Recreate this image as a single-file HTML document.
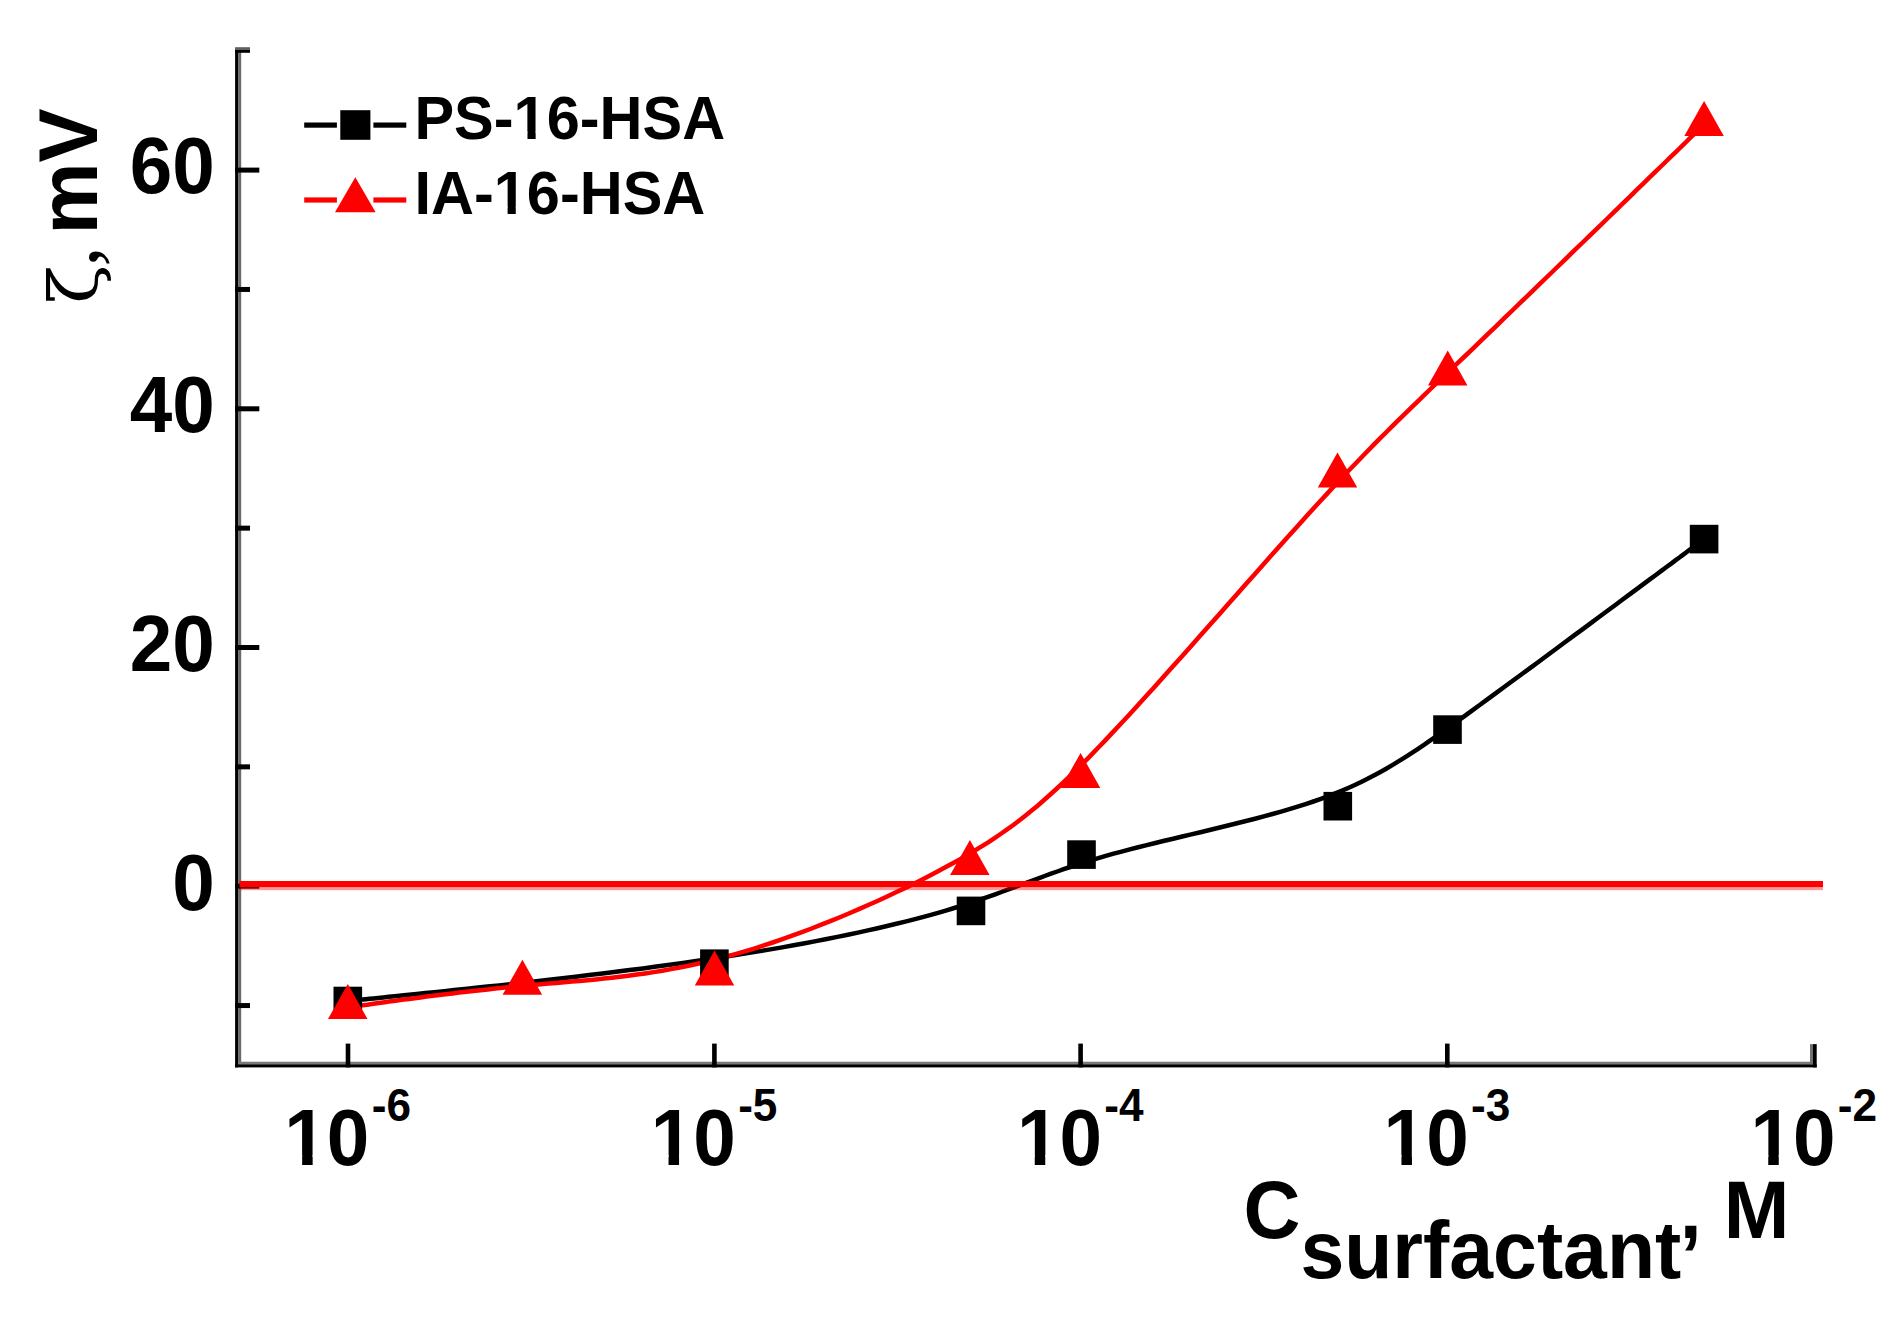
<!DOCTYPE html>
<html lang="en"><head><meta charset="utf-8"><title>Zeta potential vs surfactant concentration</title>
<style>
html,body{margin:0;padding:0;background:#fff;}
body{width:1899px;height:1326px;overflow:hidden;}
svg{display:block;}
.b{font-family:"Liberation Sans",Arial,Helvetica,sans-serif;font-weight:700;fill:#000;}
.s{font-family:"Liberation Serif","DejaVu Serif",serif;font-weight:400;fill:#000;}
.z{font-family:"DejaVu Serif","Liberation Serif",serif;font-weight:400;fill:#000;}
</style></head><body>
<svg width="1899" height="1326" viewBox="0 0 1899 1326">
<rect width="1899" height="1326" fill="#fff"/>
<g>
<g fill="#000">
<rect x="235.1" y="48.50" width="3.0" height="1018.90"/>
<rect x="238.1" y="51.60" width="3.1" height="1012.70" fill="#6a6a6a"/>
<rect x="238.1" y="1061.7" width="1575.60" height="2.6" fill="#7a7a7a"/>
<rect x="235.1" y="1064.3" width="1581.60" height="3.1"/>
<rect x="235.1" y="47.2" width="14.90" height="2.8" fill="#606060"/>
<rect x="235.1" y="50.0" width="14.90" height="2.8"/>
<rect x="235.00" y="167.60" width="24.30" height="5.00"/>
<rect x="235.00" y="286.95" width="15.00" height="5.00"/>
<rect x="235.00" y="406.30" width="24.30" height="5.00"/>
<rect x="235.00" y="525.65" width="15.00" height="5.00"/>
<rect x="235.00" y="645.00" width="24.30" height="5.00"/>
<rect x="235.00" y="764.35" width="15.00" height="5.00"/>
<rect x="235.00" y="883.70" width="24.30" height="5.00"/>
<rect x="235.00" y="1003.05" width="15.00" height="5.00"/>
<rect x="345.70" y="1043.60" width="4.60" height="23.80"/>
<rect x="712.10" y="1043.60" width="4.60" height="23.80"/>
<rect x="1078.30" y="1043.60" width="4.60" height="23.80"/>
<rect x="1445.00" y="1043.60" width="4.60" height="23.80"/>
<rect x="1810.0" y="1044.10" width="3.0" height="20.20" fill="#707070"/>
<rect x="1813.0" y="1044.10" width="3.7" height="23.30"/>
</g>
<text class="b" transform="translate(214.80 193.40) scale(0.9609 1)" font-size="79.61" text-anchor="end">60</text>
<text class="b" transform="translate(214.80 432.10) scale(0.9609 1)" font-size="79.61" text-anchor="end">40</text>
<text class="b" transform="translate(214.80 670.80) scale(0.9609 1)" font-size="79.61" text-anchor="end">20</text>
<text class="b" transform="translate(214.80 909.50) scale(0.9609 1)" font-size="79.61" text-anchor="end">0</text>
<clipPath id="c1"><path clip-rule="evenodd" d="M-500 -500H1500V500H-500Z M1.00 -9.42H18.58V4H1.00Z M29.51 -9.42H43.73V4H29.51Z"/></clipPath>
<text class="b" transform="translate(284.30 1164.50) scale(0.9609 1)" font-size="79.61" clip-path="url(#c1)">10<tspan font-size="46.00" dx="2.5" dy="-43.8">-6</tspan></text>
<text class="b" transform="translate(650.70 1164.50) scale(0.9609 1)" font-size="79.61" clip-path="url(#c1)">10<tspan font-size="46.00" dx="2.5" dy="-43.8">-5</tspan></text>
<text class="b" transform="translate(1016.90 1164.50) scale(0.9609 1)" font-size="79.61" clip-path="url(#c1)">10<tspan font-size="46.00" dx="2.5" dy="-43.8">-4</tspan></text>
<text class="b" transform="translate(1383.60 1164.50) scale(0.9609 1)" font-size="79.61" clip-path="url(#c1)">10<tspan font-size="46.00" dx="2.5" dy="-43.8">-3</tspan></text>
<text class="b" transform="translate(1750.40 1164.50) scale(0.9609 1)" font-size="79.61" clip-path="url(#c1)">10<tspan font-size="46.00" dx="2.5" dy="-43.8">-2</tspan></text>
<text class="b" transform="translate(1243.50 1238.00) scale(0.9609 1)" font-size="82.01">C<tspan dy="40">surfactant</tspan><tspan dy="-40" dx="-1.5">, M</tspan></text>
<g>
<text class="z" transform="translate(97.2 303.7) rotate(-90) scale(0.892 0.846)" font-size="80.0">ζ</text>
<text class="s" transform="translate(97.2 266.4) rotate(-90)" font-size="80.0">,</text>
<text class="b" transform="translate(97.20 234.60) rotate(-90) scale(0.9609 1)" font-size="84.30">mV</text>
</g>
<path d="M347.8 1001.0L347.8 1001.0L347.8 1001.0L347.9 1001.0L348.1 1001.0L348.4 1000.9L348.8 1000.9L349.3 1000.8L350.1 1000.8L351.0 1000.7L352.2 1000.6L353.7 1000.4L355.4 1000.2L357.5 1000.0L359.9 999.8L362.7 999.5L365.9 999.2L369.5 998.8L373.6 998.4L378.1 997.9L383.2 997.4L388.7 996.8L394.9 996.2L401.6 995.5L408.9 994.8L416.8 994.0L425.4 993.1L434.5 992.2L444.2 991.2L454.3 990.1L464.9 989.0L476.0 987.8L487.4 986.6L499.2 985.4L511.4 984.0L523.8 982.7L536.4 981.3L549.3 979.8L562.4 978.3L575.7 976.7L589.0 975.1L602.5 973.5L616.0 971.8L629.5 970.1L643.0 968.4L656.4 966.6L669.8 964.8L683.0 963.0L696.1 961.1L709.0 959.2L721.6 957.3L734.1 955.4L746.4 953.4L758.5 951.4L770.4 949.4L782.1 947.4L793.6 945.3L804.9 943.2L815.9 941.1L826.8 939.0L837.4 936.9L847.8 934.8L857.9 932.6L867.9 930.4L877.6 928.2L887.0 926.0L896.3 923.8L905.3 921.6L914.1 919.4L922.6 917.1L930.9 914.8L938.9 912.6L946.6 910.3L954.2 908.0L961.5 905.8L968.5 903.5L975.4 901.2L982.2 898.9L988.7 896.6L995.2 894.3L1001.5 892.0L1007.8 889.7L1014.0 887.4L1020.1 885.1L1026.2 882.8L1032.4 880.6L1038.5 878.3L1044.7 876.0L1051.0 873.7L1057.3 871.5L1063.7 869.2L1070.3 867.0L1077.0 864.7L1083.9 862.5L1091.0 860.3L1098.3 858.1L1105.8 855.9L1113.6 853.7L1121.6 851.6L1129.8 849.4L1138.2 847.3L1146.7 845.1L1155.4 843.0L1164.3 840.8L1173.2 838.7L1182.3 836.5L1191.3 834.4L1200.5 832.2L1209.6 830.0L1218.8 827.8L1227.9 825.5L1237.0 823.3L1246.0 821.0L1255.0 818.7L1263.8 816.3L1272.5 814.0L1281.1 811.6L1289.4 809.1L1297.6 806.6L1305.6 804.1L1313.4 801.5L1320.9 798.9L1328.1 796.2L1335.2 793.4L1342.1 790.6L1348.8 787.7L1355.3 784.8L1361.7 781.7L1368.0 778.6L1374.3 775.3L1380.4 772.0L1386.6 768.5L1392.7 764.9L1398.8 761.2L1404.9 757.4L1411.1 753.4L1417.3 749.3L1423.6 745.1L1430.0 740.7L1436.6 736.1L1443.3 731.4L1450.1 726.4L1457.2 721.4L1464.5 716.1L1472.0 710.6L1479.7 705.0L1487.7 699.1L1495.9 693.1L1504.2 687.0L1512.7 680.8L1521.3 674.5L1530.0 668.1L1538.7 661.7L1547.4 655.2L1556.2 648.8L1564.9 642.3L1573.5 635.9L1582.1 629.6L1590.5 623.4L1598.7 617.3L1606.8 611.3L1614.7 605.5L1622.3 599.8L1629.6 594.4L1636.7 589.1L1643.4 584.1L1649.8 579.4L1655.8 575.0L1661.3 570.9L1666.5 567.0L1671.2 563.6L1675.4 560.4L1679.4 557.5L1682.9 554.9L1686.1 552.5L1688.9 550.4L1691.4 548.5L1693.7 546.9L1695.6 545.4L1697.3 544.1L1698.8 543.1L1700.0 542.2L1701.0 541.4L1701.8 540.8L1702.5 540.3L1703.0 539.9L1703.4 539.6L1703.7 539.4L1703.9 539.2L1704.0 539.2L1704.1 539.1L1704.1 539.1L1704.1 539.1" fill="none" stroke="#000" stroke-width="4.5"/>
<rect x="239.5" y="881.0" width="1583.5" height="6.2" fill="#f00"/>
<rect x="239.5" y="887.2" width="1583.5" height="3" fill="#f00" opacity="0.4"/>
<path d="M347.7 1007.4L347.8 1007.4L347.8 1007.4L347.8 1007.4L347.9 1007.4L348.0 1007.3L348.2 1007.3L348.5 1007.3L348.8 1007.2L349.3 1007.2L349.9 1007.1L350.6 1007.0L351.4 1006.9L352.4 1006.7L353.5 1006.6L354.9 1006.4L356.4 1006.2L358.1 1005.9L360.0 1005.7L362.2 1005.4L364.6 1005.0L367.3 1004.7L370.2 1004.3L373.4 1003.8L376.9 1003.3L380.6 1002.8L384.7 1002.2L389.1 1001.6L393.7 1001.0L398.6 1000.3L403.7 999.6L409.1 998.9L414.7 998.2L420.5 997.4L426.5 996.6L432.7 995.8L439.1 995.0L445.6 994.2L452.3 993.4L459.2 992.6L466.1 991.8L473.2 991.0L480.4 990.2L487.7 989.4L495.1 988.6L502.6 987.8L510.1 987.1L517.7 986.3L525.3 985.6L533.0 984.9L540.7 984.3L548.4 983.6L556.1 983.0L564.0 982.3L571.8 981.6L579.7 980.9L587.7 980.2L595.7 979.4L603.8 978.6L611.9 977.7L620.1 976.7L628.4 975.7L636.8 974.6L645.2 973.4L653.7 972.1L662.3 970.7L671.0 969.1L679.7 967.5L688.6 965.7L697.6 963.8L706.6 961.7L715.8 959.4L725.0 957.0L734.4 954.4L743.9 951.7L753.4 948.8L763.1 945.7L772.7 942.5L782.4 939.2L792.1 935.7L801.9 932.2L811.6 928.5L821.3 924.7L830.9 920.9L840.5 917.0L850.0 913.0L859.5 908.9L868.8 904.8L878.0 900.7L887.1 896.5L896.0 892.3L904.8 888.1L913.4 883.9L921.8 879.7L930.0 875.5L938.0 871.3L945.8 867.1L953.3 863.0L960.6 859.0L967.6 854.9L974.5 850.8L981.2 846.7L987.8 842.6L994.2 838.3L1000.6 834.0L1006.8 829.7L1013.0 825.2L1019.2 820.5L1025.3 815.7L1031.4 810.8L1037.6 805.7L1043.8 800.3L1050.0 794.8L1056.4 789.0L1062.8 783.0L1069.4 776.7L1076.1 770.1L1083.0 763.3L1090.1 756.1L1097.4 748.5L1105.0 740.6L1112.7 732.4L1120.8 723.8L1129.0 714.9L1137.4 705.7L1146.0 696.3L1154.7 686.7L1163.6 676.8L1172.5 666.8L1181.6 656.7L1190.7 646.4L1199.9 636.1L1209.0 625.8L1218.2 615.4L1227.4 605.0L1236.5 594.7L1245.5 584.5L1254.5 574.4L1263.3 564.4L1272.1 554.6L1280.6 544.9L1289.1 535.5L1297.3 526.4L1305.3 517.5L1313.0 509.0L1320.6 500.8L1327.9 492.9L1334.9 485.3L1341.8 477.9L1348.5 470.8L1355.1 464.0L1361.6 457.3L1367.9 450.8L1374.1 444.4L1380.3 438.2L1386.5 432.0L1392.6 425.9L1398.7 419.9L1404.9 413.9L1411.0 407.9L1417.3 401.8L1423.6 395.7L1430.0 389.5L1436.6 383.2L1443.3 376.8L1450.2 370.2L1457.3 363.4L1464.6 356.5L1472.1 349.3L1479.8 341.8L1487.8 334.1L1496.0 326.3L1504.3 318.2L1512.8 310.0L1521.4 301.7L1530.1 293.4L1538.8 284.9L1547.5 276.5L1556.3 268.0L1565.0 259.6L1573.6 251.2L1582.1 243.0L1590.5 234.8L1598.8 226.8L1606.9 219.0L1614.7 211.3L1622.4 203.9L1629.7 196.8L1636.7 189.9L1643.5 183.4L1649.8 177.2L1655.8 171.4L1661.4 166.0L1666.5 161.0L1671.2 156.4L1675.5 152.3L1679.4 148.5L1682.9 145.1L1686.1 142.0L1688.9 139.2L1691.4 136.7L1693.7 134.6L1695.6 132.7L1697.3 131.0L1698.8 129.6L1700.0 128.4L1701.0 127.4L1701.8 126.6L1702.5 126.0L1703.0 125.5L1703.4 125.1L1703.7 124.8L1703.9 124.6L1704.0 124.5L1704.1 124.5L1704.1 124.4L1704.1 124.4" fill="none" stroke="#f00" stroke-width="4.5"/>
<g fill="#000">
<rect x="333.5" y="986.7" width="28.6" height="28.6"/>
<rect x="700.1" y="949.4" width="28.6" height="28.6"/>
<rect x="956.7" y="896.6" width="28.6" height="28.6"/>
<rect x="1067.2" y="840.3" width="28.6" height="28.6"/>
<rect x="1323.5" y="791.9" width="28.6" height="28.6"/>
<rect x="1433.2" y="715.3" width="28.6" height="28.6"/>
<rect x="1689.8" y="524.8" width="28.6" height="28.6"/>
</g>
<g fill="#f00">
<path d="M347.8 984.0L367.5 1019.0L328.0 1019.0Z"/>
<path d="M522.4 959.8L542.1 994.8L502.6 994.8Z"/>
<path d="M714.5 950.6L734.2 985.6L694.8 985.6Z"/>
<path d="M969.9 839.9L989.6 874.9L950.1 874.9Z"/>
<path d="M1080.6 752.9L1100.3 787.9L1060.8 787.9Z"/>
<path d="M1337.5 452.6L1357.2 487.6L1317.8 487.6Z"/>
<path d="M1447.7 350.4L1467.5 385.4L1428.0 385.4Z"/>
<path d="M1704.1 101.1L1723.8 136.1L1684.3 136.1Z"/>
</g>
<g>
<rect x="304.2" y="122.5" width="32.7" height="5.2" fill="#000"/>
<rect x="373.4" y="122.5" width="32.9" height="5.2" fill="#000"/>
<rect x="340.3" y="110.2" width="30.1" height="29.6" fill="#000"/>
<clipPath id="c2"><path clip-rule="evenodd" d="M-500 -500H1500V500H-500Z M104.22 -7.62H117.68V4H104.22Z M126.17 -7.62H137.24V4H126.17Z"/></clipPath>
<clipPath id="c3"><path clip-rule="evenodd" d="M-500 -500H1500V500H-500Z M83.54 -7.62H96.99V4H83.54Z M105.49 -7.62H116.56V4H105.49Z"/></clipPath>
<text class="b" transform="translate(414.40 139.40) scale(0.9609 1)" font-size="61.92" clip-path="url(#c2)">PS-16-HSA</text>
<rect x="304.2" y="197.4" width="32.7" height="5.2" fill="#f00"/>
<rect x="373.4" y="197.4" width="32.9" height="5.2" fill="#f00"/>
<path d="M355.3 177.2L375.6 212.2L335.0 212.2Z" fill="#f00"/>
<text class="b" transform="translate(414.40 214.40) scale(0.9609 1)" font-size="61.92" clip-path="url(#c3)">IA-16-HSA</text>
</g>
</g>
</svg></body></html>
